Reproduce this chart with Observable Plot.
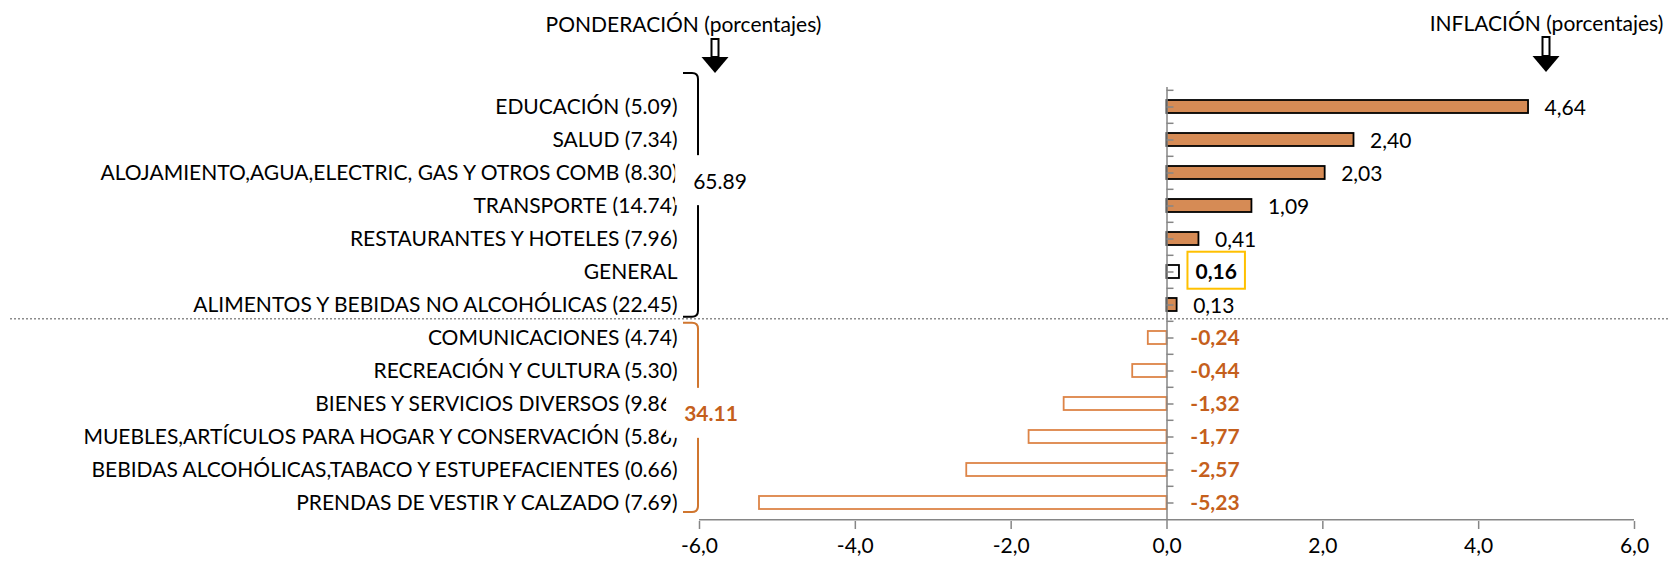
<!DOCTYPE html>
<html><head><meta charset="utf-8">
<script src="https://cdn.jsdelivr.net/npm/d3@7"></script>
<script src="https://cdn.jsdelivr.net/npm/@observablehq/plot@0.6"></script>
<style>
body{margin:0;background:#fff}
#chart svg{display:block}
#chart g[aria-label^="x-axis"] line, #chart g[aria-label^="x-axis"] path{stroke:#868686;stroke-width:1.5px}
</style>
</head><body><div id="chart"></div><script>
const categories = [
  "EDUCACIÓN (5.09)",
  "SALUD (7.34)",
  "ALOJAMIENTO,AGUA,ELECTRIC, GAS Y OTROS COMB (8.30)",
  "TRANSPORTE (14.74)",
  "RESTAURANTES Y HOTELES (7.96)",
  "GENERAL",
  "ALIMENTOS Y BEBIDAS NO ALCOHÓLICAS (22.45)",
  "COMUNICACIONES (4.74)",
  "RECREACIÓN Y CULTURA (5.30)",
  "BIENES Y SERVICIOS DIVERSOS (9.86)",
  "MUEBLES,ARTÍCULOS PARA HOGAR Y CONSERVACIÓN (5.86)",
  "BEBIDAS ALCOHÓLICAS,TABACO Y ESTUPEFACIENTES (0.66)",
  "PRENDAS DE VESTIR Y CALZADO (7.69)"
];
const inflation = [4.64, 2.40, 2.03, 1.09, 0.41, 0.16, 0.13, -0.24, -0.44, -1.32, -1.77, -2.57, -5.23];
const groupTotals = ["65.89", "34.11"];
const xTicks = [-6, -4, -2, 0, 2, 4, 6];
const titles = ["PONDERACIÓN (porcentajes)", "INFLACIÓN (porcentajes)"];

const W = 1669, H = 561, mL = 699, mR = 35, mT = 87, mB = 40;
const step = (H - mT - mB) / categories.length;
const unit = (W - mL - mR) / (xTicks[xTicks.length - 1] - xTicks[0]);
const FONT = "Lato, sans-serif", FS = 21;
const AX = "#868686", BAR = "#D68B55", NEG = "#DD8447", NEGTXT = "#C55F1C", GOLD = "#FFC000";

const rows = categories.map((cat, i) => ({cat, v: inflation[i]}));
const pos = rows.filter(d => d.v >= 0 && d.cat !== "GENERAL");
const gen = rows.filter(d => d.cat === "GENERAL");
const neg = rows.filter(d => d.v < 0);
const fmt = v => v.toFixed(2).replace(".", ",");
const tickLen = 7 / unit;

const chart = Plot.plot({
  width: W, height: H,
  marginLeft: mL, marginRight: mR, marginTop: mT, marginBottom: mB,
  style: {fontFamily: FONT, fontSize: FS + "px", color: "#000", background: "#fff", overflow: "visible"},
  x: {domain: [xTicks[0], xTicks[xTicks.length - 1]], ticks: xTicks, tickFormat: d => d.toFixed(1).replace(".", ","), tickSize: 8, tickPadding: 9, label: null},
  y: {domain: categories, padding: 0, axis: null},
  marks: [
    Plot.barX(pos, {x: "v", y: "cat", fill: BAR, stroke: "#000", strokeWidth: 1.8, insetTop: 10, insetBottom: 10}),
    Plot.barX(gen, {x: "v", y: "cat", fill: "#fff", stroke: "#000", strokeWidth: 1.8, insetTop: 10, insetBottom: 10}),
    Plot.barX(neg, {x: "v", y: "cat", fill: "#fff", stroke: NEG, strokeWidth: 1.8, insetTop: 10, insetBottom: 10}),
    Plot.ruleX([0], {stroke: AX, strokeWidth: 1.5}),
    Plot.ruleY(categories, {y: d => d, x1: 0, x2: tickLen, stroke: AX, strokeWidth: 1.5}),
    Plot.ruleY(categories, {y: d => d, x1: 0, x2: tickLen, stroke: AX, strokeWidth: 1.5, dy: -step / 2}),
    Plot.ruleY([categories[categories.length - 1]], {y: d => d, x1: xTicks[0], x2: xTicks[xTicks.length - 1], stroke: AX, strokeWidth: 1.5, dy: step / 2}),
    Plot.text(categories, {y: d => d, text: d => d, frameAnchor: "left", textAnchor: "end", dx: -22, fontSize: FS, fill: "#000"}),
    Plot.text(pos, {x: "v", y: "cat", text: d => fmt(d.v), textAnchor: "start", dx: 16, dy: 1, fontSize: FS, fill: "#000"}),
    Plot.text(gen, {x: "v", y: "cat", text: d => fmt(d.v), textAnchor: "start", dx: 16, fontSize: FS, fontWeight: "bold", fill: "#000", ariaLabel: () => "general-label"}),
    Plot.text(neg, {x: () => 0, y: "cat", text: d => fmt(d.v), textAnchor: "middle", dx: 48, fontSize: FS, fontWeight: "bold", fill: NEGTXT}),
    Plot.text([titles[0]], {x: () => xTicks[0], frameAnchor: "top", dy: -70, dx: -16, fontSize: FS, fill: "#000"}),
    Plot.text([titles[1]], {x: () => xTicks[xTicks.length - 1], frameAnchor: "top", dy: -71, dx: -88, fontSize: FS, fill: "#000"})
  ]
});
document.getElementById("chart").appendChild(chart);

// annotations (brackets, totals, arrows, highlight box) positioned from Plot's scales
const sx = chart.scale("x"), syd = chart.scale("y");
const X = d3.scaleLinear(sx.domain, sx.range);
const Y = d3.scaleBand(syd.domain, syd.range)
  .paddingInner(syd.paddingInner || 0).paddingOuter(syd.paddingOuter || 0).align(syd.align ?? 0.5);
const svg = d3.select(chart);
const ann = svg.append("g").attr("font-family", FONT).attr("font-size", FS);
const x0 = X(xTicks[0]);
const yTop = Y.range()[0], yBot = Y.range()[1];
const ySplit = Y(categories[7]);

// dotted separator
ann.append("line").attr("x1", 10).attr("x2", W).attr("y1", ySplit - 2).attr("y2", ySplit - 2)
  .attr("stroke", "#8c8c8c").attr("stroke-width", 1.5).attr("stroke-dasharray", "2,2");

function bracket(top, bottom, color) {
  const bx = x0 - 1, r = 6;
  ann.append("path")
    .attr("d", `M${bx - 15},${top} L${bx - r},${top} Q${bx},${top} ${bx},${top + r} L${bx},${bottom - r} Q${bx},${bottom} ${bx - r},${bottom} L${bx - 15},${bottom}`)
    .attr("fill", "none").attr("stroke", color).attr("stroke-width", 2);
}
bracket(yTop - 14, ySplit - 4, "#000");
bracket(ySplit + 2, yBot - 9, "#D0762F");

function total(text, cx, cy, color, weight) {
  const gg = ann.append("g");
  const rect = gg.append("rect").attr("fill", "#fff");
  const t = gg.append("text").attr("x", cx).attr("y", cy).attr("text-anchor", "middle")
    .attr("dominant-baseline", "central").attr("fill", color).attr("font-weight", weight).text(text);
  const b = t.node().getBBox();
  rect.attr("x", b.x - 18).attr("width", b.width + 36).attr("y", cy - 25).attr("height", 50);
}
total(groupTotals[0], x0 + 21, Y(categories[3]) - 7, "#000", "normal");
total(groupTotals[1], x0 + 12, Y(categories[10]) - 8, NEGTXT, "bold");

function arrow(cx, top, shaftEnd, tip) {
  ann.append("rect").attr("x", cx - 3.5).attr("y", top).attr("width", 7).attr("height", shaftEnd - top)
    .attr("fill", "#fff").attr("stroke", "#000").attr("stroke-width", 2);
  ann.append("path").attr("d", `M${cx - 13.5},${shaftEnd} L${cx + 13.5},${shaftEnd} L${cx},${tip} Z`).attr("fill", "#000");
}
arrow(x0 + 16, 39, 57, 73);
arrow(X(xTicks[xTicks.length - 1]) - 88, 37, 56, 72);

// gold highlight box around GENERAL value (measured in screen space of the svg)
let gt = chart.querySelector('text[aria-label="general-label"]') || chart.querySelector('g[aria-label="general-label"] text');
if (!gt) gt = Array.from(chart.querySelectorAll("text")).find(t => t.textContent === fmt(gen[0].v));
if (gt) {
  const sr = chart.getBoundingClientRect();
  const r = gt.getBoundingClientRect();
  const cx = r.left - sr.left, cyTop = r.top - sr.top;
  const cy = cyTop + r.height / 2;
  ann.append("rect")
    .attr("x", cx - 8).attr("y", cy - 18.5).attr("width", r.width + 16).attr("height", 37)
    .attr("fill", "none").attr("stroke", GOLD).attr("stroke-width", 2);
}
</script></body></html>
